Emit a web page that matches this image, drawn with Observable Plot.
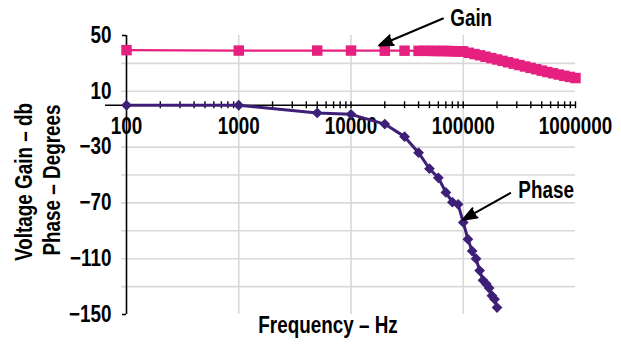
<!DOCTYPE html>
<html><head><meta charset="utf-8">
<script src="https://cdn.jsdelivr.net/npm/d3@7"></script>
<script src="https://cdn.jsdelivr.net/npm/@observablehq/plot@0.6"></script>
<style>
body{margin:0;background:#fff;}
#chart svg{display:block;}
</style></head><body><div id="chart"></div>
<script>
// Gain series (dB)
const gainFreq = [100, 1000, 5000, 10000, 20000, 30000, 40000, 45000, 50000, 55000, 60000, 65000, 70000,
  75000, 80000, 85000, 90000, 95000,
  100000, 112000, 126000, 141000, 158000, 178000, 200000, 224000, 251000, 282000, 316000, 355000,
  398000, 447000, 501000, 562000, 631000, 708000, 794000, 891000, 1000000];
const gainDb = [39.5, 39.2, 39.2, 39.2, 39.1, 39.1, 39.0, 39.0, 39.0, 38.9, 38.9, 38.9, 38.9,
  38.8, 38.8, 38.7, 38.7, 38.7,
  38.6, 37.6, 36.7, 35.8, 34.8, 33.8, 32.8, 31.8, 30.8, 29.8, 28.8, 27.8,
  26.8, 25.8, 24.8, 23.8, 22.9, 22.0, 21.1, 20.3, 19.5];
// Phase series (degrees)
const phaseFreq = [100, 1000, 5000, 10000, 20000, 30000, 40000, 50000, 60000, 70000, 80000, 90000,
  100000, 110000, 120000, 130000, 140000, 150000, 160000, 170000, 180000, 190000, 200000];
const phaseDeg = [0, 0, -5.5, -6.5, -13.5, -22.5, -34, -45.5, -52, -62.5, -69.5, -71,
  -84, -96, -104.5, -110, -118.5, -125.5, -128, -131, -136.5, -139, -145];
// Axes
const xTickValues = [100, 1000, 10000, 100000, 1000000];
const xTickLabels = ["100", "1000", "10000", "100000", "1000000"];
const xMinorTicks = [200, 300, 400, 500, 600, 700, 800, 900,
  1000, 2000, 3000, 4000, 5000, 6000, 7000, 8000, 9000,
  10000, 20000, 30000, 40000, 50000, 60000, 70000, 80000, 90000,
  100000, 200000, 300000, 400000, 500000, 600000, 700000, 800000, 900000, 1000000];
const xGridValues = [1000, 10000, 100000];
const yTickValues = [50, 10, -30, -70, -110, -150];
const yTickLabels = ["50", "10", "\u221230", "\u221270", "\u2212110", "\u2212150"];
const yGridValues = [30, 10, -30, -50, -70, -90, -110, -130];
const yEndTicks = [50, -150];
// Annotations
const noteText = ["Gain", "Phase"];
const noteX = [72000, 291000];
const noteY = [62.2, -61];
const arrowFromX = [66000, 262000];
const arrowFromY = [62.2, -63];
const arrowToX = [17800, 99500];
const arrowToY = [42.8, -82];

const gain = gainFreq.map((f, i) => ({f, v: gainDb[i]}));
const phase = phaseFreq.map((f, i) => ({f, v: phaseDeg[i]}));
const xTicks = xTickValues.map((v, i) => ({v, label: xTickLabels[i]}));
const yTicks = yTickValues.map((v, i) => ({v, label: yTickLabels[i]}));
const notes = noteText.map((t, i) => ({t, x: noteX[i], y: noteY[i]}));
const arrows = noteText.map((t, i) => ({x1: arrowFromX[i], y1: arrowFromY[i], x2: arrowToX[i], y2: arrowToY[i]}));

const GAIN = "#E6207E", PHASE = "#3E1F77", GRID = "#d9d9d9";
const FONT = "'Liberation Sans', Arial, sans-serif";

const chart = Plot.plot({
  width: 621, height: 351,
  marginLeft: 126, marginRight: 46, marginTop: 35, marginBottom: 37,
  style: {fontFamily: FONT, background: "white", color: "black"},
  x: {type: "log", domain: [100, 1000000], axis: null},
  y: {domain: [-150, 50], axis: null},
  marks: [
    Plot.ruleY(yGridValues, {stroke: GRID, strokeWidth: 1.6, insetLeft: -5}),
    Plot.ruleX(xGridValues, {stroke: GRID, strokeWidth: 1.6}),
    Plot.ruleX([100], {stroke: "black", strokeWidth: 1.6}),
    Plot.ruleY(yEndTicks, {x1: 100, x2: 100, insetLeft: -4, stroke: "black", strokeWidth: 1.6}),
    Plot.ruleY([0], {stroke: "black", strokeWidth: 1.6, insetLeft: -21}),
    Plot.ruleX(xMinorTicks, {y1: 0, y2: 0, insetTop: -3.5, insetBottom: -3.5, stroke: "black", strokeWidth: 1.4}),
    Plot.text(xTicks, {x: "v", y: 0, text: "label", dy: 21, fontSize: 23, fontWeight: "bold"}),
    Plot.text(yTicks, {y: "v", text: "label", frameAnchor: "left", textAnchor: "end", dx: -15, fontSize: 23, fontWeight: "bold"}),
    Plot.text(["Voltage Gain \u2013 db"], {frameAnchor: "left", textAnchor: "middle", rotate: -90, dx: -102, dy: 7, fontSize: 23, fontWeight: "bold"}),
    Plot.text(["Phase \u2013 Degrees"], {frameAnchor: "left", textAnchor: "middle", rotate: -90, dx: -74, dy: 5, fontSize: 23, fontWeight: "bold"}),
    Plot.text(["Frequency \u2013 Hz"], {frameAnchor: "bottom", dx: -23, dy: 18, fontSize: 23, fontWeight: "bold"}),
    Plot.line(gain, {x: "f", y: "v", stroke: GAIN, strokeWidth: 2.2}),
    Plot.dot(gain, {x: "f", y: "v", symbol: "square", r: 5.9, fill: GAIN, stroke: "none"}),
    Plot.line(phase, {x: "f", y: "v", stroke: PHASE, strokeWidth: 3}),
    Plot.dot(phase, {x: "f", y: "v", symbol: "square", r: 4.3, rotate: 45, fill: PHASE, stroke: "none"}),
    Plot.arrow(arrows, {x1: "x1", y1: "y1", x2: "x2", y2: "y2", stroke: "black", fill: "black", strokeWidth: 2, headLength: 11, headAngle: 42}),
    Plot.text(notes, {x: "x", y: "y", text: "t", textAnchor: "start", dx: 3, fontSize: 23, fontWeight: "bold"})
  ]
});
document.getElementById("chart").appendChild(chart);
// Condense the bold text horizontally (the reference uses a narrow bold face)
chart.querySelectorAll("text").forEach(t => {
  const len = t.getComputedTextLength();
  if (len > 0) {
    t.setAttribute("textLength", (len * 0.82).toFixed(1));
    t.setAttribute("lengthAdjust", "spacingAndGlyphs");
  }
});
</script>
</body></html>
